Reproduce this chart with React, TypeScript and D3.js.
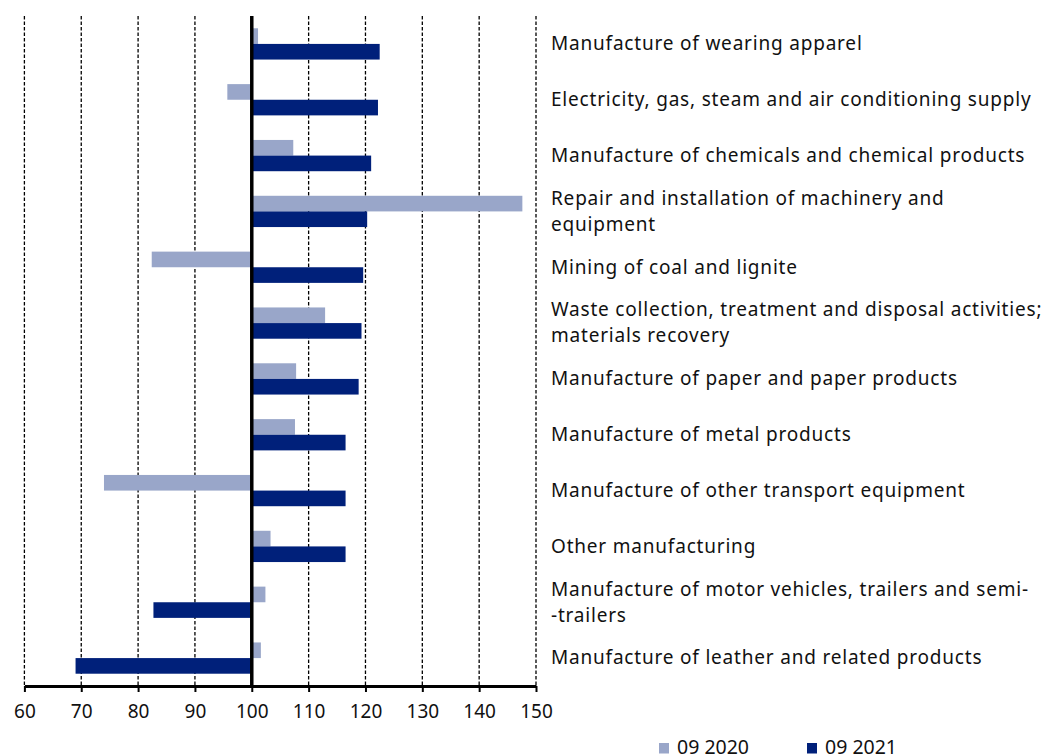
import { useEffect, useRef } from 'react'
import * as d3 from 'd3'

const categories = [
    'Manufacture of wearing apparel',
    'Electricity, gas, steam and air conditioning supply',
    'Manufacture of chemicals and chemical products',
    'Repair and installation of machinery and\nequipment',
    'Mining of coal and lignite',
    'Waste collection, treatment and disposal activities;\nmaterials recovery',
    'Manufacture of paper and paper products',
    'Manufacture of metal products',
    'Manufacture of other transport equipment',
    'Other manufacturing',
    'Manufacture of motor vehicles, trailers and semi-\n-trailers',
    'Manufacture of leather and related products',
]

const values2020 = [101.1, 95.7, 107.3, 147.6, 82.4, 112.9, 107.8, 107.6, 74.0, 103.3, 102.4, 101.6]
const values2021 = [122.5, 122.2, 121.0, 120.3, 119.6, 119.3, 118.8, 116.5, 116.5, 116.5, 82.7, 69.0]

const seriesNames = ['09 2020', '09 2021']
const seriesColors = ['#99a6c9', '#00207a']
const xTicks = [60, 70, 80, 90, 100, 110, 120, 130, 140, 150]

export default function App() {
    const svgRef = useRef<SVGSVGElement>(null)

    useEffect(() => {
        if (!svgRef.current) return
        const svg = d3.select(svgRef.current)
        svg.selectAll('*').remove()

        const font = 'Noto Sans, sans-serif'
        const top = 16
        const bottom = 686

        const x = d3.scaleLinear().domain([60, 150]).range([24.4, 536])
        const y = d3.scaleBand<number>()
            .domain(categories.map((_, i) => i))
            .range([top, bottom])
            .paddingInner(0.44)
            .paddingOuter(0.22)
        const half = y.bandwidth() / 2

        // dashed gridlines
        svg.append('g')
            .selectAll('line')
            .data(xTicks.filter(t => t !== 100))
            .enter()
            .append('line')
            .attr('x1', d => x(d))
            .attr('x2', d => x(d))
            .attr('y1', top)
            .attr('y2', bottom)
            .attr('stroke', '#000')
            .attr('stroke-width', 1.3)
            .attr('stroke-dasharray', '3.5,2')

        // bars
        const series = [values2020, values2021]
        series.forEach((vals, s) => {
            svg.append('g')
                .selectAll('rect')
                .data(vals)
                .enter()
                .append('rect')
                .attr('x', d => x(Math.min(d, 100)))
                .attr('width', d => Math.abs(x(d) - x(100)))
                .attr('y', (_, i) => y(i)! + s * half)
                .attr('height', half)
                .attr('fill', seriesColors[s])
        })

        // base line at 100
        svg.append('line')
            .attr('x1', x(100))
            .attr('x2', x(100))
            .attr('y1', top)
            .attr('y2', bottom)
            .attr('stroke', '#000')
            .attr('stroke-width', 3.5)

        // x axis
        const axis = svg.append('g')
            .attr('transform', `translate(0,${bottom})`)
            .call(d3.axisBottom(x).tickValues(xTicks).tickSize(6).tickSizeOuter(0).tickPadding(13))
        axis.select('.domain').attr('stroke', '#000').attr('stroke-width', 3)
        axis.selectAll('.tick line').attr('stroke', '#000').attr('stroke-width', 2)
        axis.selectAll('.tick text')
            .attr('fill', '#111')
            .style('font-size', '19px')
            .style('font-family', font)

        // category labels, centred on each bar pair
        const labels = svg.append('g')
        categories.forEach((c, i) => {
            const lines = c.split('\n')
            const cy = y(i)! + half
            const t = labels.append('text')
                .attr('x', 551)
                .style('font-size', '19px')
                .style('letter-spacing', '0.8px')
                .style('font-family', font)
                .attr('fill', '#111')
            lines.forEach((ln, k) => {
                t.append('tspan')
                    .attr('x', 551)
                    .attr('y', cy + (k - (lines.length - 1) / 2) * 26)
                    .attr('dy', '0.33em')
                    .text(ln)
            })
        })

        // legend
        const legendX = [659, 807]
        seriesNames.forEach((n, s) => {
            svg.append('rect')
                .attr('x', legendX[s])
                .attr('y', 743)
                .attr('width', 10)
                .attr('height', 10.5)
                .attr('fill', seriesColors[s])
            svg.append('text')
                .attr('x', legendX[s] + 18)
                .attr('y', 754)
                .style('font-size', '19.5px')
                .style('font-family', font)
                .attr('fill', '#111')
                .text(n)
        })
    }, [])

    return (
        <svg ref={svgRef} width={1049} height={756}
            style={{ position: 'absolute', left: 0, top: 0, background: '#fff' }} />
    )
}
